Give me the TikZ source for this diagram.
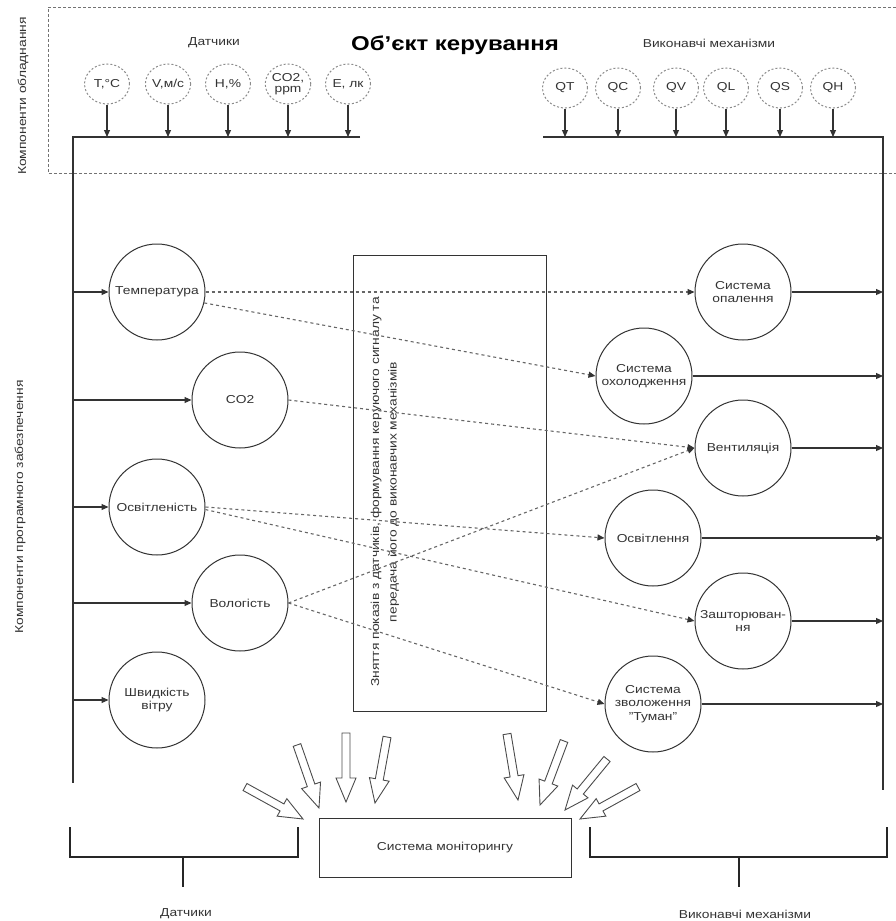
\documentclass[tikz,border=0pt]{standalone}
\usepackage{fontspec}
\setmainfont{Liberation Sans}[FakeStretch=1.2]
\usetikzlibrary{arrows.meta,calc,shapes.geometric}

\newcommand\txtsz{\fontsize{11.5}{13.5}\selectfont}
\newcommand\titlesz{\fontsize{20}{23}\selectfont\bfseries}

% hollow block arrow from #1 (tail) to #2 (tip)
\newcommand\blockarrow[2]{%
  \coordinate (neck) at ($(#2)!24pt!(#1)$);
  \draw[blockar] ($(#1)!4pt!90:(#2)$) -- ($(neck)!4pt!90:(#2)$)
    -- ($(neck)!10pt!90:(#2)$) -- (#2) -- ($(neck)!10pt!-90:(#2)$)
    -- ($(neck)!4pt!-90:(#2)$) -- ($(#1)!4pt!-90:(#2)$) -- cycle;}

\begin{document}
\begin{tikzpicture}[x=1pt,y=-1pt,
  every node/.style={text=black!80, font=\txtsz},
  ln/.style={draw=black!80, line width=1.1pt},
  arr/.style={ln, -{Triangle[length=7pt,width=6pt]}},
  dashconn/.style={draw=black!60, line width=1.1pt, dash pattern=on 3pt off 3pt,
    -{Triangle[length=7pt,width=6pt,color=black!80,fill=black!80]}},
  circ/.style={circle, draw=black!80, line width=1pt, minimum size=96pt,
    inner sep=0pt, align=center},
  dotcirc/.style={ellipse, draw=black!45, line width=1pt, dash pattern=on 2pt off 2pt,
    minimum width=45pt, minimum height=40pt, inner sep=0pt, align=center},
  blockar/.style={draw=black!70, line width=0.9pt, fill=white, line join=miter},
  brk/.style={draw=black!85, line width=1.6pt}
]
\useasboundingbox (0,0) rectangle (895,921);

% ---------- hardware area ----------
\draw[draw=black!55, line width=1pt, dash pattern=on 3pt off 2pt]
  (896,7) -- (48,7) -- (48,173) -- (896,173);
\node[rotate=90] (hwlbl) at (23,96) {Компоненти обладнання};
\node[font=\titlesz, text=black] (title) at (455,45) {Об'єкт керування};
\node (senslbl) at (214,43) {Датчики};
\node (actlbl) at (709,43) {Виконавчі механізми};

% buses
\coordinate (lbusL) at (73,137);
\coordinate (lbusR) at (360,137);
\coordinate (lbusB) at (73,783);
\coordinate (rbusL) at (543,137);
\coordinate (rbusR) at (883,137);
\coordinate (rbusB) at (883,790);
\draw[ln] (lbusR) -- (lbusL) -- (lbusB);
\draw[ln] (rbusL) -- (rbusR) -- (rbusB);

% sensors
\node[dotcirc] (sT) at (107,84) {T,°C};
\node[dotcirc] (sV) at (168,84) {V,м/с};
\node[dotcirc] (sH) at (228,84) {H,\%};
\node[dotcirc] (sC) at (288,84) {CO2,\\[-2pt]ppm};
\node[dotcirc] (sE) at (348,84) {E, лк};
\foreach \s in {sT,sV,sH,sC,sE}
  \draw[arr] (\s.south) -- (\s.south |- lbusL);

% actuators
\node[dotcirc] (qT) at (565,88) {QT};
\node[dotcirc] (qC) at (618,88) {QC};
\node[dotcirc] (qV) at (676,88) {QV};
\node[dotcirc] (qL) at (726,88) {QL};
\node[dotcirc] (qS) at (780,88) {QS};
\node[dotcirc] (qH) at (833,88) {QH};
\foreach \q in {qT,qC,qV,qL,qS,qH}
  \draw[arr] (\q.south) -- (\q.south |- rbusL);

% ---------- software area ----------
\node[rotate=90] (swlbl) at (20,507) {Компоненти програмного забезпечення};

% processing block
\node[draw=black!80, line width=1pt, minimum width=193pt, minimum height=456pt,
  inner sep=0pt] (proc) at (449.5,483) {};
\node[rotate=90, align=center, text width=430pt] (proctext) at (385,492)
  {Зняття показів з датчиків, формування керуючого сигналу та\\[4pt]
   передача його до виконавчих механізмів};

% measured quantities
\node[circ] (temp)  at (157,292) {Температура};
\node[circ] (co2)   at (240,400) {CO2};
\node[circ] (illum) at (157,507) {Освітленість};
\node[circ] (hum)   at (240,603) {Вологість};
\node[circ] (wind)  at (157,700) {Швидкість\\вітру};
\foreach \n in {temp,co2,illum,hum,wind}
  \draw[arr] (\n.west -| lbusL) -- (\n.west);

% controlled systems
\node[circ] (heat)  at (743,292) {Система\\опалення};
\node[circ] (cool)  at (644,376) {Система\\охолодження};
\node[circ] (vent)  at (743,448) {Вентиляція};
\node[circ] (light) at (653,538) {Освітлення};
\node[circ] (blind) at (743,621) {Зашторюван-\\ня};
\node[circ] (fog)   at (653,704) {Система\\зволоження\\"Туман"};
\foreach \n in {heat,cool,vent,light,blind,fog}
  \draw[arr] (\n.east) -- (\n.east -| rbusR);

% control links
\draw[dashconn] (temp.east) -- (heat.west);
\draw[dashconn] (temp.-13) -- (cool.west);
\draw[dashconn] (co2.east) -- (vent.west);
\draw[dashconn] (illum.east) -- (light.west);
\draw[dashconn] (illum.-3) -- (blind.west);
\draw[dashconn] (hum.east) -- (vent.west);
\draw[dashconn] (hum.east) -- (fog.west);

% ---------- monitoring ----------
\node[draw=black!80, line width=1pt, minimum width=252pt, minimum height=59pt,
  inner sep=0pt] (mon) at (445,847.5) {Система моніторингу};

\coordinate (a1t) at (245,787); \coordinate (a1h) at (303,819);
\coordinate (a2t) at (297,745); \coordinate (a2h) at (319,808);
\coordinate (a3t) at (346,733); \coordinate (a3h) at (346,802);
\coordinate (a4t) at (387,737); \coordinate (a4h) at (375,803);
\coordinate (a5t) at (507,734); \coordinate (a5h) at (518,800);
\coordinate (a6t) at (564,741); \coordinate (a6h) at (540,805);
\coordinate (a7t) at (607,759); \coordinate (a7h) at (565,810);
\coordinate (a8t) at (638,787); \coordinate (a8h) at (580,819);
\foreach \i in {1,...,8} {\blockarrow{a\i t}{a\i h}}

% brackets
\draw[brk] (70,827) -- (70,857) -- (298,857) -- (298,827);
\draw[brk] (183,857) -- (183,887);
\node (senslbl2) at (186,914) {Датчики};
\draw[brk] (590,827) -- (590,857) -- (887,857) -- (887,827);
\draw[brk] (739,857) -- (739,887);
\node (actlbl2) at (745,914) {Виконавчі механізми};
\end{tikzpicture}
\end{document}
